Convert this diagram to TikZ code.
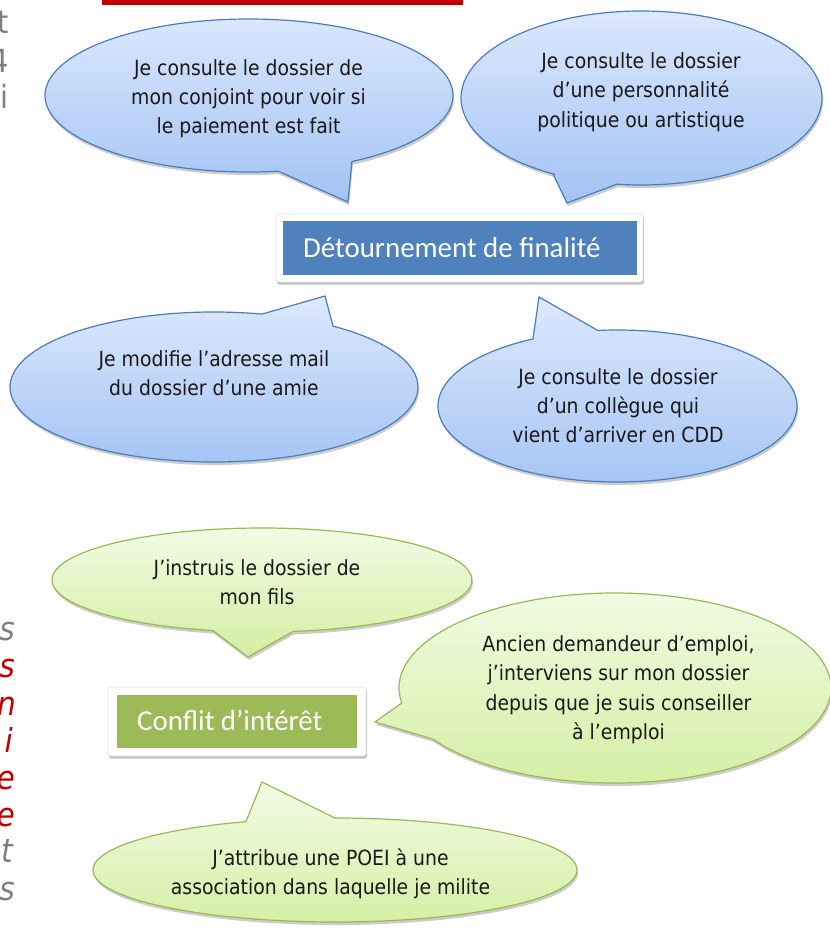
\documentclass[tikz,border=0pt]{standalone}
\usepackage{fontspec}
\newfontfamily\bubblefont{DejaVu Sans}[FakeStretch=0.9]
\newfontfamily\titlefont{Carlito}
\newfontfamily\marginfont{DejaVu Sans}[FakeStretch=0.9]
\usetikzlibrary{shadows}
\definecolor{bluetop}{HTML}{DDE9FC}
\definecolor{bluebot}{HTML}{A3C3F4}
\definecolor{blueline}{HTML}{4A7EBB}
\definecolor{greentop}{HTML}{F3FBE6}
\definecolor{greenbot}{HTML}{D3EFA2}
\definecolor{greenline}{HTML}{98B954}
\definecolor{boxblue}{HTML}{4F81BD}
\definecolor{boxgreen}{HTML}{9BBB59}
\definecolor{marggray}{HTML}{7F7F7F}
\definecolor{margred}{HTML}{C00000}
\newcommand\bubblelines[1]{\vtop{\halign{\hfil##\hfil\cr#1\crcr}}}
\tikzset{
  softshadow/.style={drop shadow={shadow xshift=1bp, shadow yshift=-3bp, opacity=0.2, fill=black}},
  bluebubble/.style={softshadow, top color=bluetop, bottom color=bluebot, draw=blueline, line width=1.2bp, line join=miter},
  greenbubble/.style={softshadow, top color=greentop, bottom color=greenbot, draw=greenline, line width=1.2bp, line join=miter},
  bubbletext/.style={inner sep=0pt, anchor=base, text=black!90, font=\bubblefont\fontsize{21}{29.5}\selectfont},
  framebox/.style={draw=black!12, fill=white, rounded corners=2.5bp, line width=0.6bp, inner sep=0pt,
     drop shadow={shadow xshift=1bp, shadow yshift=-2.5bp, opacity=0.25, fill=black}},
  titletext/.style={inner sep=0pt, anchor=base west, text=white, font=\titlefont\fontsize{29}{34}\selectfont},
  margup/.style={inner sep=0pt, anchor=base east, text=marggray, font=\marginfont\fontsize{32}{36}\selectfont},
  margit/.style={inner sep=0pt, anchor=base east, font=\marginfont\itshape\fontsize{33}{37}\selectfont},
}
% #1 center, #2 rx, #3 ry, #4 angle A, #5 angle B, #6 tip, #7 style
\newcommand\callout[7]{%
  \path[#7] ([shift={#1}]#4:#2 and #3) -- #6 -- ([shift={#1}]#5:#2 and #3)
     arc[start angle=#5, end angle={#4+360}, x radius=#2, y radius=#3] -- cycle;}
\begin{document}
\begin{tikzpicture}[x=1bp,y=1bp]
\useasboundingbox (0,0) rectangle (830,-928);
\clip (0,0) rectangle (830,-928);

% underlying page fragments
\fill[margred] (102,0) rectangle (463,-5);
\node[margup] (mt1) at (9,-33) {t};
\node[margup] (mt2) at (9,-72) {4};
\node[margup] (mt3) at (9,-108) {i};
\node[margit, text=marggray] (mi1) at (15,-640) {s};
\node[margit, text=margred] (mi2) at (15,-677) {s};
\node[margit, text=margred] (mi3) at (16,-715) {n};
\node[margit, text=margred] (mi4) at (13,-752) {i};
\node[margit, text=margred] (mi5) at (15,-789) {e};
\node[margit, text=margred] (mi6) at (15,-826) {e};
\node[margit, text=marggray] (mi7) at (13,-862) {t};
\node[margit, text=marggray] (mi8) at (15,-900) {s};

% blue callouts
\callout{(249,-95.5)}{204}{76.5}{278.2}{300.3}{(348,-202)}{bluebubble}
\callout{(641.5,-98)}{180.5}{87}{240.6}{262.2}{(567,-203)}{bluebubble}
\callout{(214,-387)}{204}{75}{54.3}{76.4}{(325,-296)}{bluebubble}
\callout{(617.5,-406)}{179.5}{76}{96.3}{118.1}{(539,-297)}{bluebubble}

% green callouts
\callout{(262,-580)}{210}{52}{256.5}{278.5}{(248,-657)}{greenbubble}
\callout{(615,-688)}{216}{95}{189.1}{212.5}{(375,-722)}{greenbubble}
\callout{(335,-870)}{242}{52}{90}{111.6}{(262,-782)}{greenbubble}

% bubble texts
\node[bubbletext] (tA) at (248.5,-75) {\bubblelines{Je consulte le dossier de\cr mon conjoint pour voir si\cr le paiement est fait}};
\node[bubbletext] (tB) at (641,-68.5) {\bubblelines{Je consulte le dossier\cr d’une personnalité\cr politique ou artistique}};
\node[bubbletext] (tC) at (214,-366) {\bubblelines{Je modifie l’adresse mail\cr du dossier d’une amie}};
\node[bubbletext] (tD) at (618,-384) {\bubblelines{Je consulte le dossier\cr d’un collègue qui\cr vient d’arriver en CDD}};
\node[bubbletext] (tE) at (257,-575) {\bubblelines{J’instruis le dossier de\cr mon fils}};
\node[bubbletext] (tF) at (618.5,-651.5) {\bubblelines{Ancien demandeur d’emploi,\cr j’interviens sur mon dossier\cr depuis que je suis conseiller\cr à l’emploi}};
\node[bubbletext] (tG) at (330.5,-865) {\bubblelines{J’attribue une POEI à une\cr association dans laquelle je milite}};

% title boxes
\node[framebox, minimum width=367bp, minimum height=68bp] (detframe) at (459.5,-248) {};
\node[fill=boxblue, inner sep=0pt, minimum width=354bp, minimum height=54bp] (detbox) at (460,-248) {};
\node[titletext] (dettext) at (303,-257) {Détournement de finalité};

\node[framebox, minimum width=258bp, minimum height=69bp] (cofframe) at (237,-721.5) {};
\node[fill=boxgreen, inner sep=0pt, minimum width=240bp, minimum height=53bp] (cofbox) at (237,-721.5) {};
\node[titletext] (coftext) at (137,-730) {Conflit d’intérêt};
\end{tikzpicture}
\end{document}
